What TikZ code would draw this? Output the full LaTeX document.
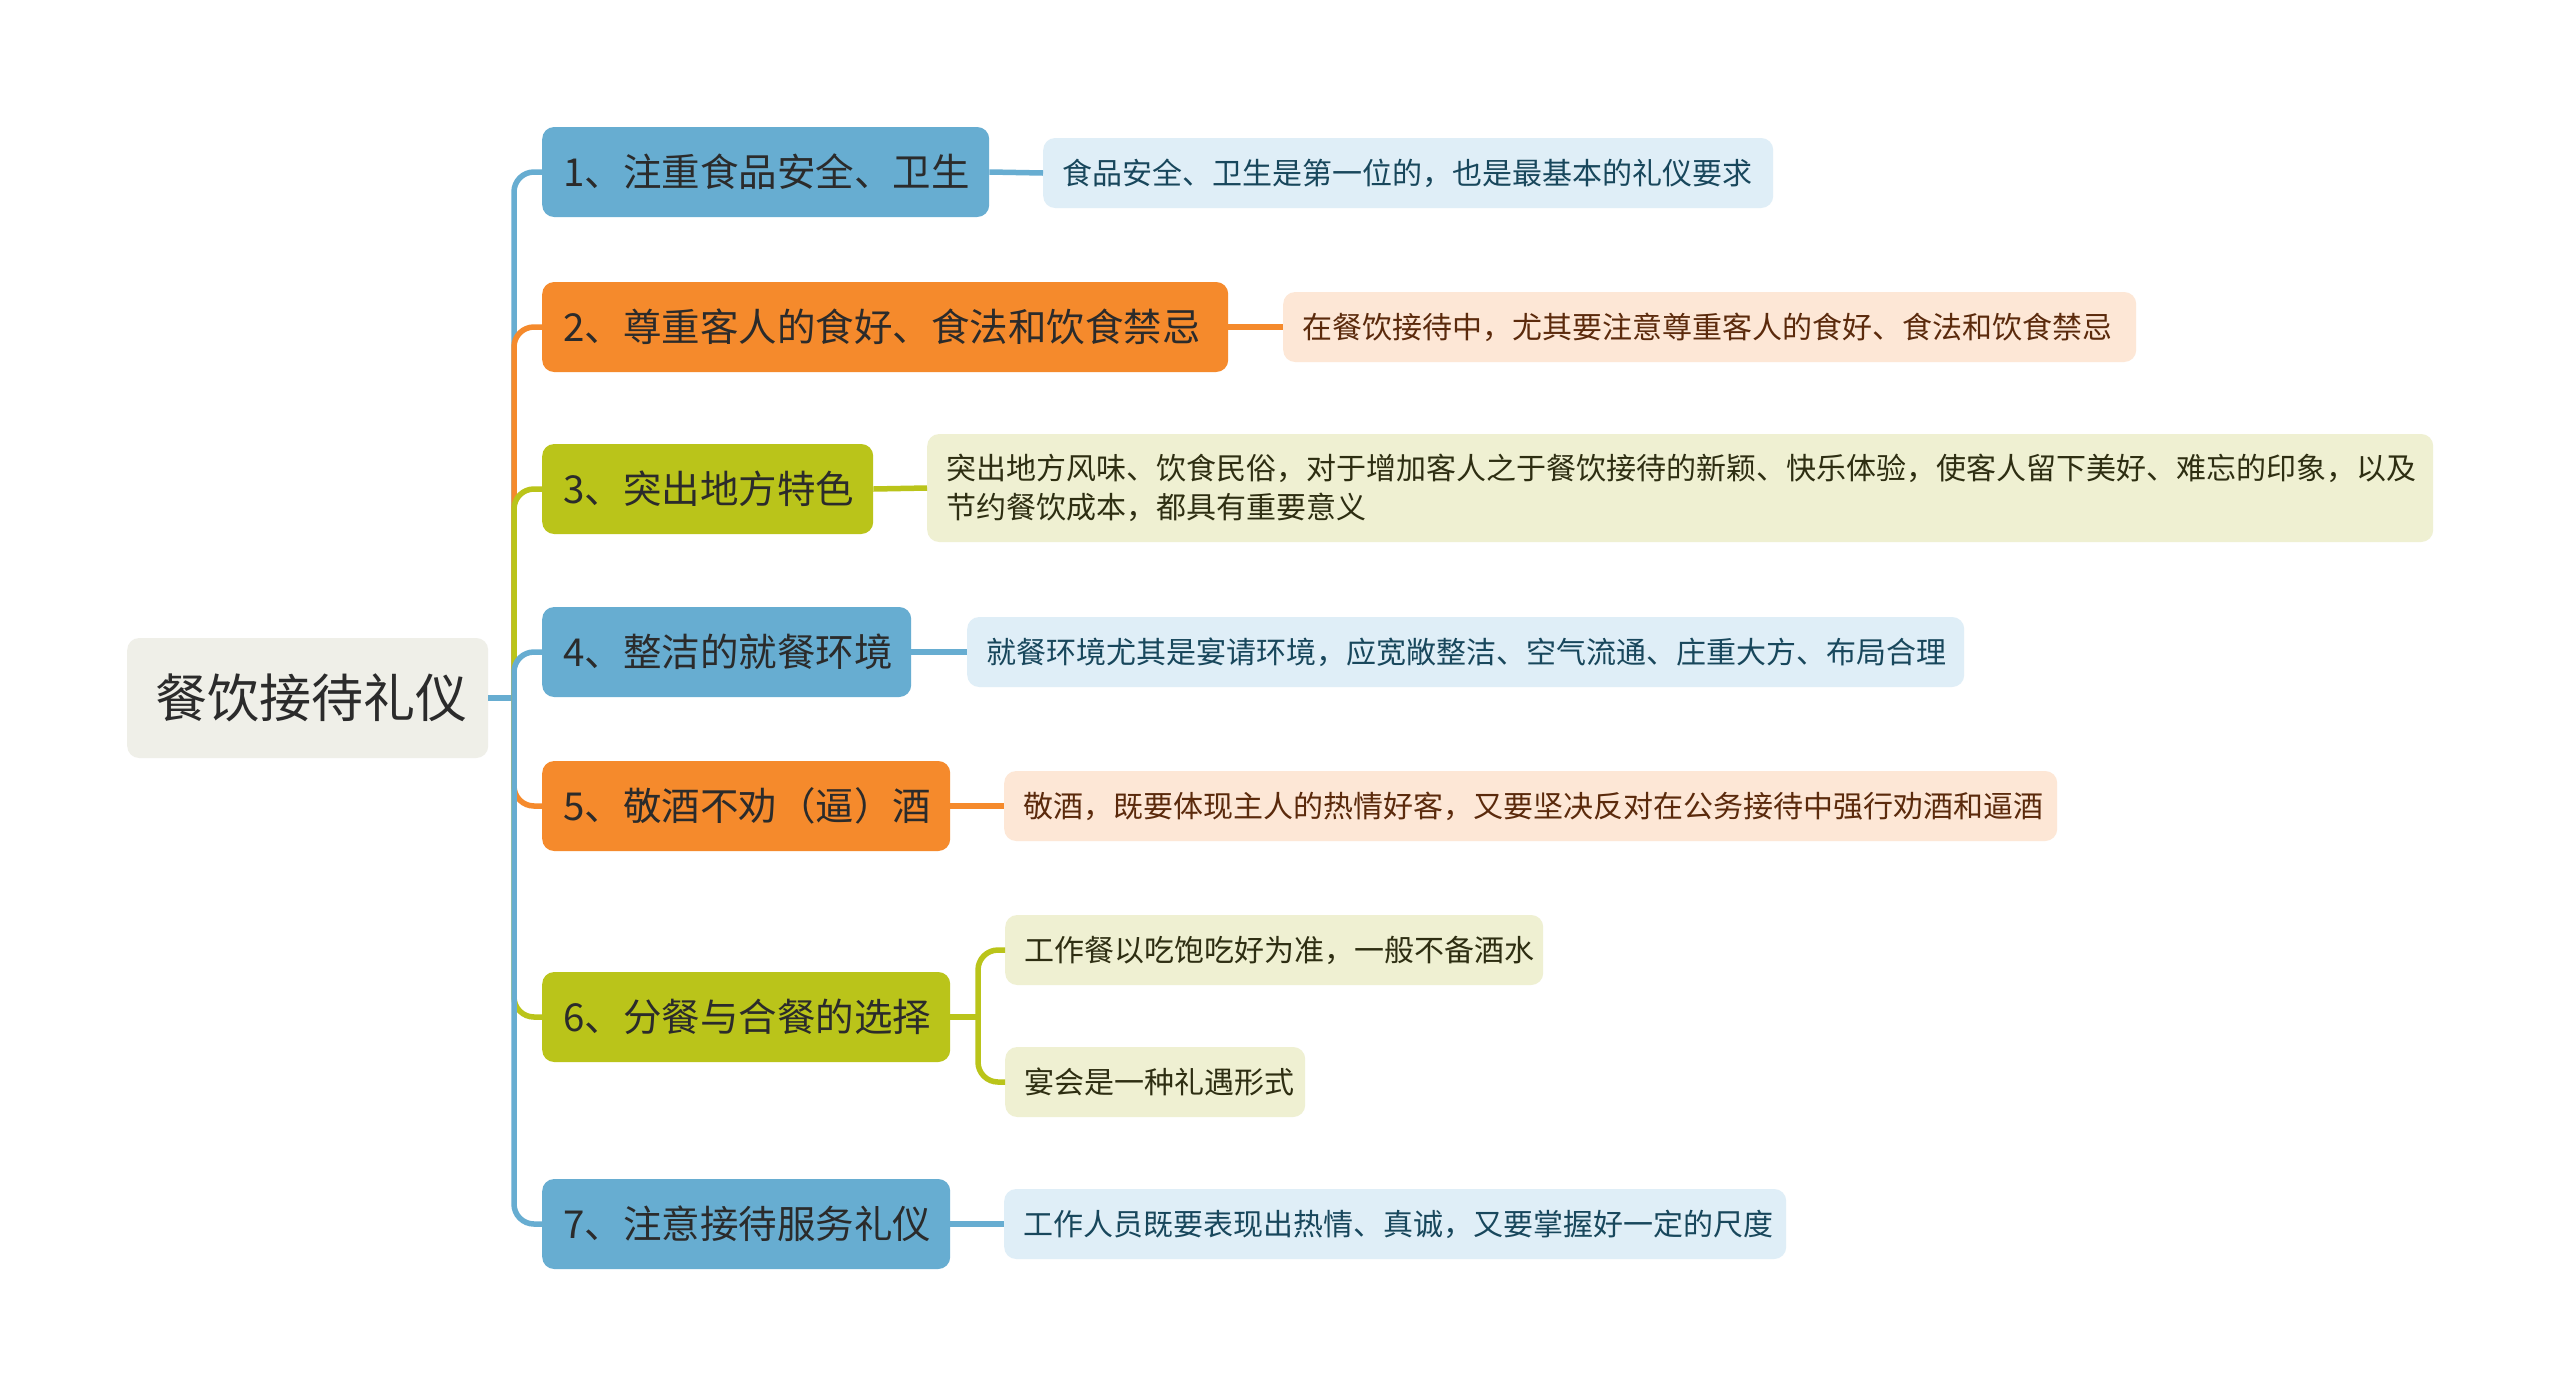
\documentclass[tikz,border=0pt]{standalone}
\usepackage{fontspec}
\setmainfont{Noto Sans CJK SC}
\definecolor{cblue}{HTML}{67ADD1}
\definecolor{corange}{HTML}{F58A2C}
\definecolor{cgreen}{HTML}{BAC41A}
\definecolor{lblue}{HTML}{DFEEF7}
\definecolor{lorange}{HTML}{FDE7D6}
\definecolor{lgreen}{HTML}{EFF0D2}
\definecolor{rootfill}{HTML}{EFEFE8}
\definecolor{tblue}{HTML}{18475C}
\definecolor{torange}{HTML}{5B2A0C}
\definecolor{tgreen}{HTML}{2E2E12}
\definecolor{tdark}{HTML}{2B2B2B}
\tikzset{
  box/.style={rectangle, rounded corners=12pt, anchor=west, align=left, inner ysep=0pt},
  rootbox/.style={box, fill=rootfill, text=tdark, font=\fontsize{52}{60}\selectfont, inner xsep=28pt, minimum height=120pt, text width=305pt},
  branchbox/.style={box, text=tdark, font=\fontsize{38.5}{46}\selectfont, inner xsep=21pt, minimum height=90pt},
  leafbox/.style={box, font=\fontsize{30}{39}\selectfont, inner xsep=19pt, minimum height=70pt},
  conn/.style={line width=5.5pt, rounded corners=20pt},
  straight/.style={line width=5.5pt},
}
\begin{document}
\begin{tikzpicture}[x=1pt,y=-1pt]
\useasboundingbox (0,0) rectangle (2560,1398);
\fill[white] (0,0) rectangle (2560,1398);

% root
\node[rootbox] (root) at (127,698) {餐饮接待礼仪};
\coordinate (hub) at (514,698);

% branches
\node[branchbox, fill=cblue, text width=405pt] (b1) at (542,172) {1、注重食品安全、卫生};
\node[branchbox, fill=corange, text width=644pt] (b2) at (542,327) {2、尊重客人的食好、食法和饮食禁忌};
\node[branchbox, fill=cgreen, text width=289pt] (b3) at (542,489) {3、突出地方特色};
\node[branchbox, fill=cblue, text width=327pt] (b4) at (542,652) {4、整洁的就餐环境};
\node[branchbox, fill=corange, text width=366pt] (b5) at (542,806) {5、敬酒不劝（逼）酒};
\node[branchbox, fill=cgreen, text width=366pt] (b6) at (542,1017) {6、分餐与合餐的选择};
\node[branchbox, fill=cblue, text width=366pt] (b7) at (542,1224) {7、注意接待服务礼仪};

% leaves
\node[leafbox, fill=lblue, text=tblue, text width=692pt] (l1) at (1043,173) {食品安全、卫生是第一位的，也是最基本的礼仪要求};
\node[leafbox, fill=lorange, text=torange, text width=815pt] (l2) at (1283,327) {在餐饮接待中，尤其要注意尊重客人的食好、食法和饮食禁忌};
\node[leafbox, fill=lgreen, text=tgreen, text width=1468pt, minimum height=108pt] (l3) at (927,488) {突出地方风味、饮食民俗，对于增加客人之于餐饮接待的新颖、快乐体验，使客人留下美好、难忘的印象，以及\\节约餐饮成本，都具有重要意义};
\node[leafbox, fill=lblue, text=tblue, text width=959pt] (l4) at (967,652) {就餐环境尤其是宴请环境，应宽敞整洁、空气流通、庄重大方、布局合理};
\node[leafbox, fill=lorange, text=torange, text width=1015pt] (l5) at (1004,806) {敬酒，既要体现主人的热情好客，又要坚决反对在公务接待中强行劝酒和逼酒};
\node[leafbox, fill=lgreen, text=tgreen, text width=500pt] (l6a) at (1005,950) {工作餐以吃饱吃好为准，一般不备酒水};
\node[leafbox, fill=lgreen, text=tgreen, text width=262pt] (l6b) at (1005,1082) {宴会是一种礼遇形式};
\node[leafbox, fill=lblue, text=tblue, text width=744pt] (l7) at (1004,1224) {工作人员既要表现出热情、真诚，又要掌握好一定的尺度};
\coordinate (j6) at (978,1017);

% connectors root -> branches
\draw[straight, cblue] (root.east) -- (hub);
\draw[conn, cblue] (hub) |- (b1.west);
\draw[conn, corange] (hub) |- (b2.west);
\draw[conn, cgreen] (hub) |- (b3.west);
\draw[conn, cblue] (hub) |- (b4.west);
\draw[conn, corange] (hub) |- (b5.west);
\draw[conn, cgreen] (hub) |- (b6.west);
\draw[conn, cblue] (hub) |- (b7.west);

% connectors branches -> leaves
\draw[straight, cblue] (b1.east) -- (l1.west);
\draw[straight, corange] (b2.east) -- (l2.west);
\draw[straight, cgreen] (b3.east) -- (l3.west);
\draw[straight, cblue] (b4.east) -- (l4.west);
\draw[straight, corange] (b5.east) -- (l5.west);
\draw[straight, cgreen] (b6.east) -- (j6);
\draw[conn, cgreen] (j6) |- (l6a.west);
\draw[conn, cgreen] (j6) |- (l6b.west);
\draw[straight, cblue] (b7.east) -- (l7.west);
\end{tikzpicture}
\end{document}
